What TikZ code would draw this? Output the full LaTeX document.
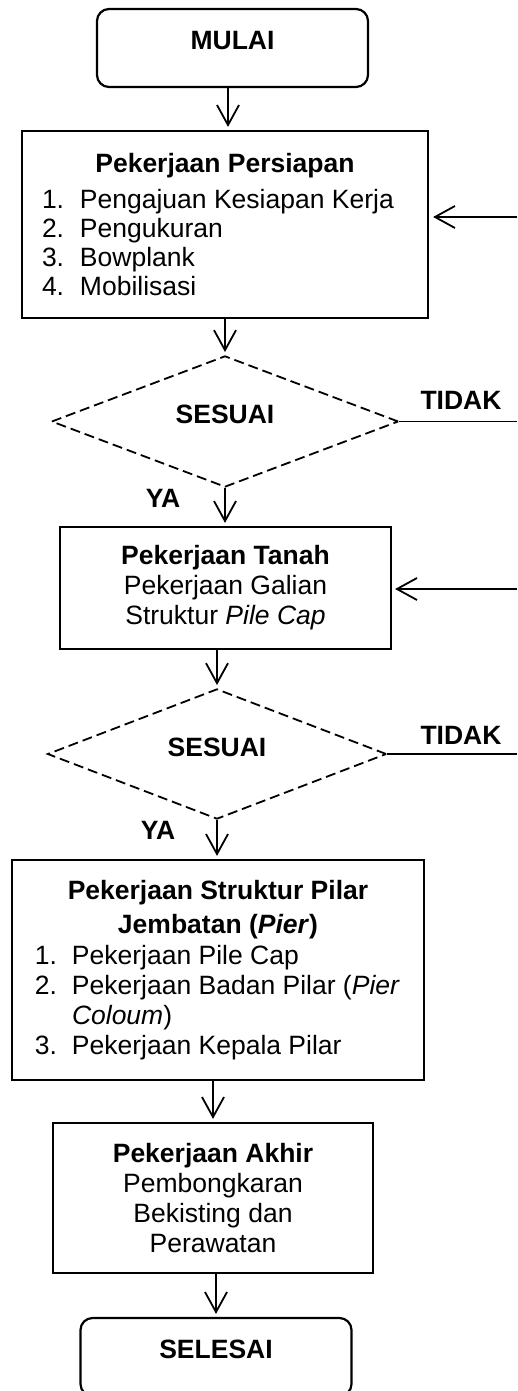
\documentclass[tikz,border=0pt]{standalone}
\usepackage{fontspec}
\setmainfont{Liberation Sans}
\usetikzlibrary{shapes.geometric,arrows.meta,calc}

\newcommand{\numline}[4]{\hspace*{#1}\makebox[#2][l]{#3}#4}

\begin{document}
\begin{tikzpicture}[x=1pt,y=-1pt,
  every node/.style={font=\fontsize{26.5}{30}\selectfont},
  box/.style={draw, line width=2.2pt, rectangle, inner sep=0pt, align=center},
  term/.style={box, rounded corners=12pt, minimum width=271pt, minimum height=78pt},
  decision/.style={draw, diamond, line width=1.8pt, dash pattern=on 10pt off 5pt,
                   inner sep=0pt, font=\fontsize{26.5}{30}\selectfont\bfseries},
  flow/.style={line width=1.8pt, -{Straight Barb[length=20pt,width=22pt]}, shorten >=3pt},
  link/.style={line width=1.8pt},
  lbl/.style={font=\fontsize{26.5}{30}\selectfont\bfseries, inner sep=0pt}
]
\useasboundingbox (0,0) rectangle (517,1391);

% start / end terminals
\node[term] (mulai) at (232.5,48) {\raisebox{16pt}{\textbf{MULAI}}};
\node[term] (selesai) at (216,1357) {\raisebox{16pt}{\textbf{SELESAI}}};

% preparation works
\node[box, minimum width=406pt, minimum height=187pt, font=\fontsize{26.5}{29}\selectfont]
  (persiapan) at (225,224.5) {\raisebox{6pt}{%
  \begin{minipage}{406pt}\raggedright
  \makebox[\linewidth][c]{\textbf{Pekerjaan Persiapan}}\\[7pt]
  \numline{20pt}{38pt}{1.}{Pengajuan Kesiapan Kerja}\\
  \numline{20pt}{38pt}{2.}{Pengukuran}\\
  \numline{20pt}{38pt}{3.}{Bowplank}\\
  \numline{20pt}{38pt}{4.}{Mobilisasi}
  \end{minipage}}};

\node[decision, minimum width=347pt, minimum height=119pt] (cek1) at (225,421.5)
  {\raisebox{14pt}{SESUAI}};

% earthworks
\node[box, minimum width=331pt, minimum height=122pt] (tanah) at (225.5,588)
  {\textbf{Pekerjaan Tanah}\\Pekerjaan Galian\\Struktur \textit{Pile Cap}};

\node[decision, minimum width=339pt, minimum height=118pt] (cek2) at (217,754)
  {\raisebox{13pt}{SESUAI}};

% pier structure
\node[box, minimum width=412pt, minimum height=220pt] (pilar) at (218,970) {%
  \begin{minipage}{412pt}\raggedright
  \makebox[\linewidth][c]{\textbf{Pekerjaan Struktur Pilar}}\\[4pt]
  \makebox[\linewidth][c]{\textbf{Jembatan (\textit{Pier})}}\\[1pt]
  \numline{23pt}{37pt}{1.}{Pekerjaan Pile Cap}\\
  \numline{23pt}{37pt}{2.}{Pekerjaan Badan Pilar (\textit{Pier}}\\
  \hspace*{60pt}\textit{Coloum})\\
  \numline{23pt}{37pt}{3.}{Pekerjaan Kepala Pilar}
  \end{minipage}};

% final works
\node[box, minimum width=320pt, minimum height=150pt] (akhir) at (213,1198)
  {\textbf{Pekerjaan Akhir}\\Pembongkaran\\Bekisting dan\\Perawatan};

% decision labels
\node[lbl] (tidak1) at (461,400) {TIDAK};
\node[lbl] (tidak2) at (461,735) {TIDAK};
\node[lbl] (ya1) at (163,498) {YA};
\node[lbl] (ya2) at (158,830) {YA};

% loose ends at the right margin
\coordinate (r1) at (517,421.5);
\coordinate (r2) at (517,754);
\coordinate (back1) at (517,217);
\coordinate (back2) at (517,589);

% main flow
\draw[flow] ([xshift=3pt]persiapan.north |- mulai.south) -- ([xshift=3pt]persiapan.north);
\draw[flow] (persiapan.south) -- (cek1.north);
\draw[flow] (cek1.south) -- (cek1.south |- tanah.north);
\draw[flow] (cek2.north |- tanah.south) -- (cek2.north);
\draw[flow] (cek2.south) -- (cek2.south |- pilar.north);
\draw[flow] (akhir.north |- pilar.south) -- (akhir.north);
\draw[flow] (selesai.north |- akhir.south) -- (selesai.north);

% rejection branches
\draw[link] (cek1.east) -- (r1);
\draw[link] (cek2.east) -- (r2);
\draw[flow, shorten >=4pt] (back1) -- (back1 -| persiapan.east);
\draw[flow] (back2) -- (back2 -| tanah.east);
\end{tikzpicture}
\end{document}
